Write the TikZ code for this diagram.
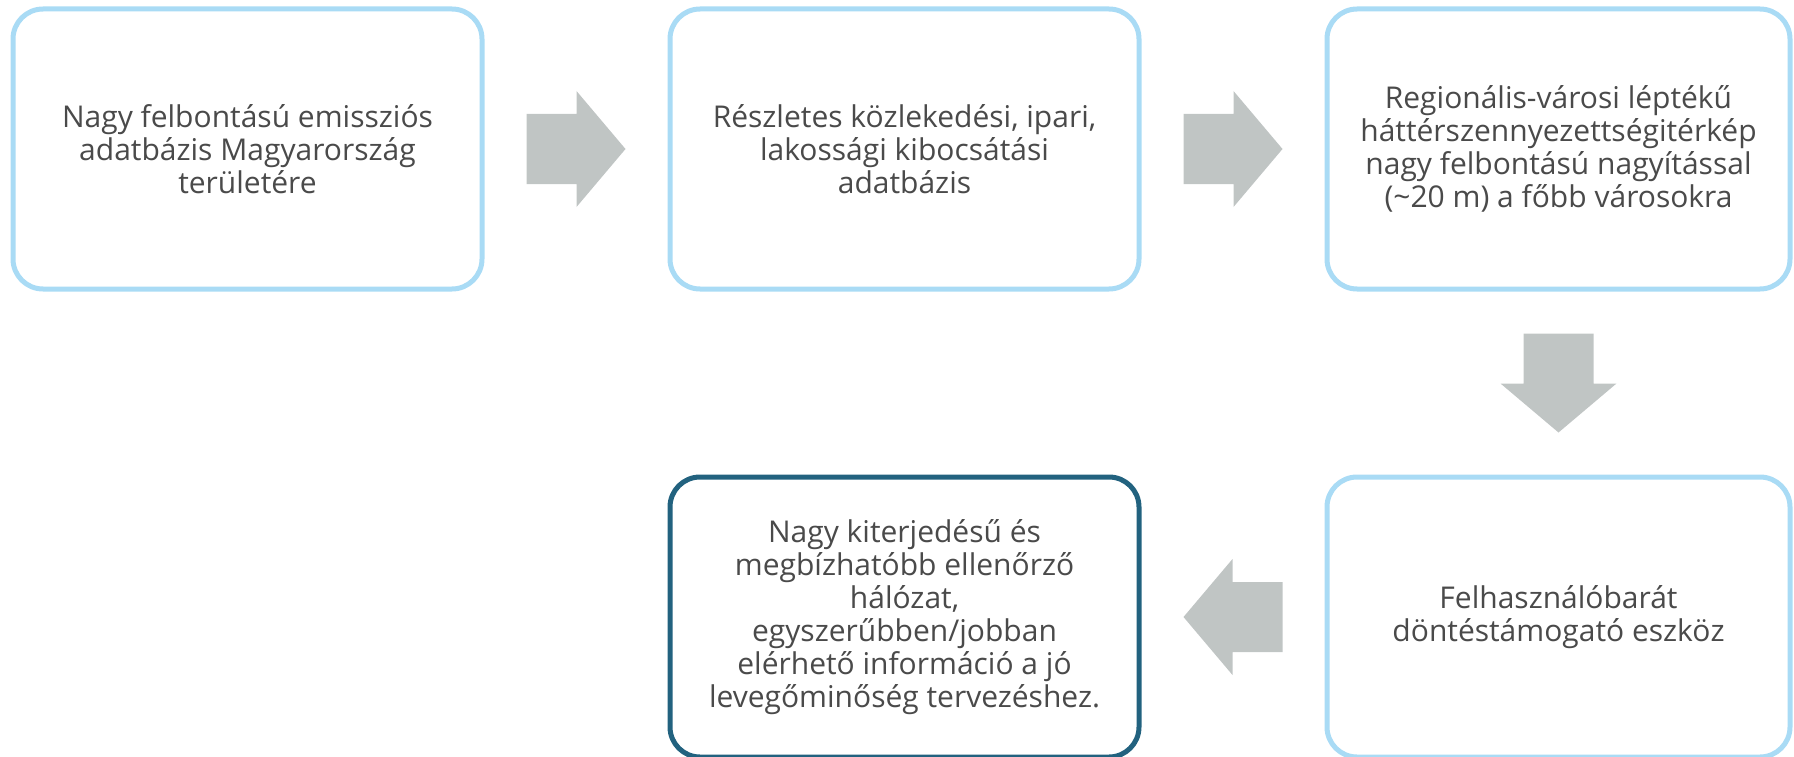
\documentclass[tikz,border=0pt]{standalone}
\usepackage{fontspec}
\setmainfont{Open Sans}
\definecolor{boxblue}{HTML}{A9DBF5}
\definecolor{boxdark}{HTML}{22627F}
\definecolor{arrowgray}{HTML}{C0C5C4}
\definecolor{textgray}{HTML}{4A4A4A}
\tikzstyle{stepbox}=[rectangle,rounded corners=30pt,line width=5pt,draw=boxblue,
fill=white,minimum width=469pt,minimum height=280pt,align=center,
text=textgray,font=\fontsize{30}{33}\selectfont]
\tikzstyle{goalbox}=[stepbox,draw=boxdark]
\tikzstyle{blockarrow}=[fill=arrowgray]
\usetikzlibrary{positioning,calc}

\begin{document}
\begin{tikzpicture}[x=1pt,y=1pt,node distance=183pt]
            \useasboundingbox (0,0) rectangle (1794,-757);

            % TOP ROW

            \node[stepbox] at (247.5,-149) (b1) {Nagy felbontású emissziós\\adatbázis Magyarország\\területére};
            \node[stepbox,right=of b1] (b2) {Részletes közlekedési, ipari,\\lakossági kibocsátási\\adatbázis};
            \node[stepbox,right=of b2,minimum width=463pt] (b3) {Regionális-városi léptékű\\háttérszennyezettségitérkép\\nagy felbontású nagyítással\\(\textasciitilde 20 m) a főbb városokra};

            % BOTTOM ROW

            \node[stepbox,below=of b3,minimum width=463pt] (b4) {Felhasználóbarát\\döntéstámogató eszköz};
            \node[goalbox,left=of b4] (b5) {Nagy kiterjedésű és\\megbízhatóbb ellenőrző\\hálózat,\\egyszerűbben/jobban\\elérhető információ a jó\\levegőminőség tervezéshez.};

            % ARROWS

            \coordinate (m12) at ($(b1.east)!0.5!(b2.west)$);
            \coordinate (m23) at ($(b2.east)!0.5!(b3.west)$);
            \coordinate (m34) at ($(b3.south)!0.5!(b4.north)$);
            \coordinate (m45) at ($(b4.west)!0.5!(b5.east)$);

            \foreach \m/\r in {m12/0,m23/0,m34/-90,m45/180}
              \fill[blockarrow,shift={(\m)},rotate=\r] (-49.5,-35) -- (0.5,-35) -- (0.5,-58)
                -- (49.5,0) -- (0.5,58) -- (0.5,35) -- (-49.5,35) -- cycle;

        \end{tikzpicture}
\end{document}
